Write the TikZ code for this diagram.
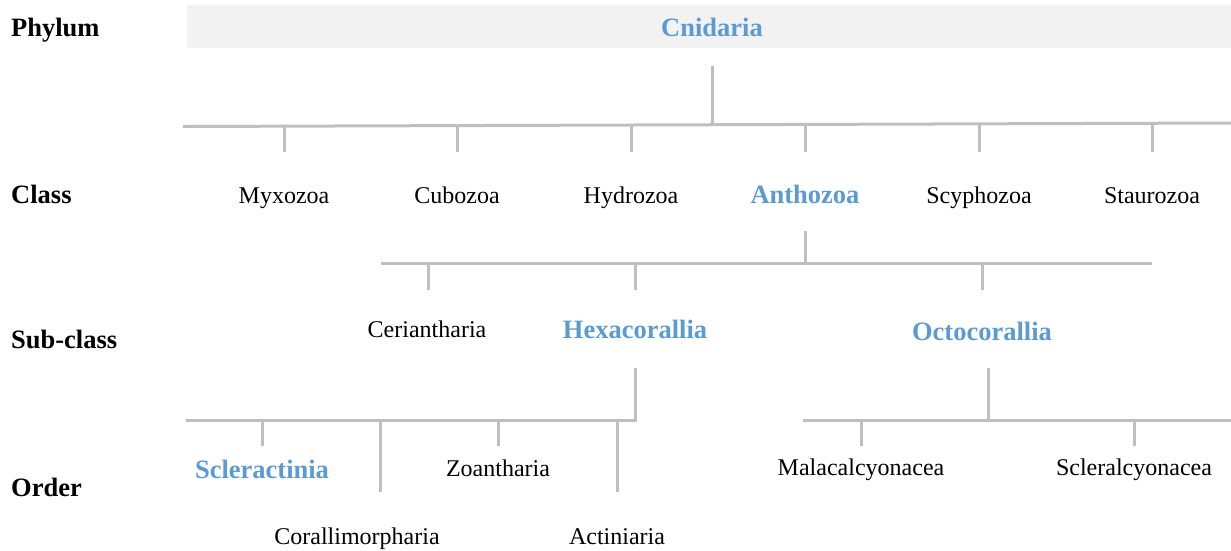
\documentclass[tikz,border=0pt]{standalone}
\usepackage{fontspec}
\setmainfont{Liberation Serif}
\usepackage{tikz}
\usetikzlibrary{positioning}
\definecolor{band}{HTML}{F2F2F2}
\definecolor{branch}{HTML}{BFBFBF}
\definecolor{accent}{HTML}{5B9BD5}
\definecolor{ink}{HTML}{000000}
\tikzset{
  link/.style={draw=branch, line width=3pt},
  taxon/.style={text=ink, font=\fontsize{24}{28}\selectfont, inner sep=0pt, anchor=base},
  key/.style={text=accent, font=\fontsize{26.5}{30}\selectfont\bfseries, inner sep=0pt, anchor=base},
  rank/.style={text=ink, font=\fontsize{26.5}{30}\selectfont\bfseries, inner sep=0pt, anchor=base west},
}
\begin{document}
\begin{tikzpicture}[x=1pt,y=-1pt]
\useasboundingbox (0,0) rectangle (1231,550);
\fill[band] (187,5) rectangle (1231,48);
\node[rank] (phylum) at (11,36) {Phylum};
\node[rank] (class) at (11,203) {Class};
\node[rank] (subclass) at (11,348) {Sub-class};
\node[rank] (order) at (11,496) {Order};
\node[key] (cnidaria) at (712,36) {Cnidaria};
\node[taxon] (myxozoa) at (284,203) {Myxozoa};
\node[taxon] (cubozoa) at (457,203) {Cubozoa};
\node[taxon] (hydrozoa) at (631,203) {Hydrozoa};
\node[key] (anthozoa) at (805,203) {Anthozoa};
\node[taxon] (scyphozoa) at (979,203) {Scyphozoa};
\node[taxon] (staurozoa) at (1152,203) {Staurozoa};
\node[taxon] (ceriantharia) at (427,337) {Ceriantharia};
\node[key] (hexacorallia) at (635,338) {Hexacorallia};
\node[key] (octocorallia) at (982,340) {Octocorallia};
\node[key] (scleractinia) at (262,478) {Scleractinia};
\node[taxon] (corallimorpharia) at (357,544) {Corallimorpharia};
\node[taxon] (zoantharia) at (498,476) {Zoantharia};
\node[taxon] (actiniaria) at (617,544) {Actiniaria};
\node[taxon] (malacalcyonacea) at (861,475) {Malacalcyonacea};
\node[taxon] (scleralcyonacea) at (1134,475) {Scleralcyonacea};
\coordinate (classbarL) at (183,126.5);
\coordinate (classbarR) at (1231,123);
\draw[link] (classbarL) -- (classbarR);
\draw[link] (cnidaria |- 0,66) -- (cnidaria |- 0,124.5);
\foreach \n in {myxozoa,cubozoa,hydrozoa,anthozoa,scyphozoa,staurozoa}
  \draw[link] (\n |- 0,124.5) -- (\n |- 0,152);
\draw[link] (anthozoa |- 0,231) -- (anthozoa |- 0,263);
\draw[link] (381,263) -- (staurozoa |- 0,263);
\draw[link] (428,263) -- (428,290);
\foreach \n in {hexacorallia,octocorallia}
  \draw[link] (\n |- 0,263) -- (\n |- 0,290);
\draw[link] (hexacorallia |- 0,368) -- (hexacorallia |- 0,420) -- (186,420);
\draw[link] (988,368) -- (988,420);
\draw[link] (803,420) -- (1231,420);
\foreach \n in {scleractinia,zoantharia,malacalcyonacea,scleralcyonacea}
  \draw[link] (\n |- 0,420) -- (\n |- 0,446);
\draw[link] (380,420) -- (380,492);
\draw[link] (actiniaria |- 0,420) -- (actiniaria |- 0,492);
\end{tikzpicture}
\end{document}
